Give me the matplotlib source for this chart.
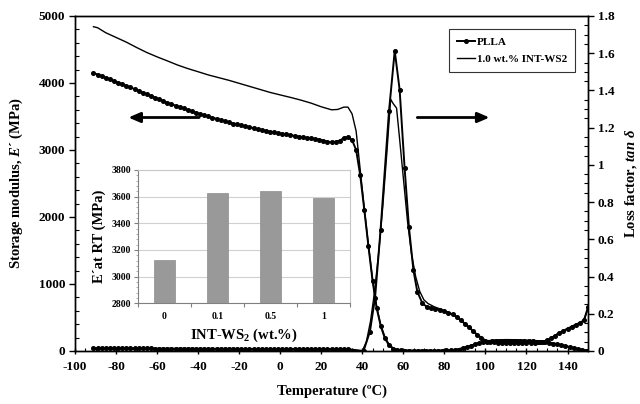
import matplotlib
matplotlib.use("Agg")
import matplotlib.pyplot as plt
from matplotlib.ticker import MultipleLocator, FuncFormatter, FixedLocator

plt.rcParams['font.family'] = ['Liberation Serif', 'DejaVu Serif']
plt.rcParams['font.weight'] = 'bold'
plt.rcParams['axes.unicode_minus'] = False
plt.rcParams['mathtext.fontset'] = 'custom'
plt.rcParams['mathtext.rm'] = 'Liberation Serif:bold'
plt.rcParams['mathtext.bf'] = 'Liberation Serif:bold'
plt.rcParams['mathtext.it'] = 'Liberation Serif:bold:italic'

# ---------------- data ----------------
# Storage modulus E' of PLLA (markers)
T_E_pl = [-91, -89, -87, -85, -83, -81, -79, -77, -75, -73, -71, -69, -67, -65, -63, -61,
          -59, -57, -55, -53, -51, -49, -47, -45, -43, -41, -39, -37, -35, -33, -31, -29,
          -27, -25, -23, -21, -19, -17, -15, -13, -11, -9, -7, -5, -3, -1, 1, 3, 5, 7, 9,
          11, 13, 15, 17, 19, 21, 23, 25, 27, 29, 31, 33, 35, 37, 39, 41, 43, 45, 47, 49,
          51, 53, 55, 57, 59, 61, 63, 65, 67, 69, 71, 73, 75, 77, 79, 81, 83, 85, 87, 89,
          91, 93, 95, 97, 99, 101, 103, 105, 107, 109, 111, 113, 115, 117, 119, 121, 123,
          125, 127, 129, 131, 133, 135, 137, 139, 141, 143, 145, 147, 149, 150]
E_pl = [4150, 4126, 4102, 4078, 4054, 4030, 4006, 3982, 3958, 3934, 3910, 3884, 3858, 3833,
        3807, 3782, 3756, 3730, 3705, 3683, 3662, 3641, 3620, 3598, 3577, 3556, 3535, 3517,
        3500, 3482, 3465, 3447, 3430, 3412, 3395, 3381, 3367, 3354, 3340, 3326, 3312, 3299,
        3285, 3274, 3264, 3253, 3243, 3232, 3222, 3212, 3201, 3191, 3182, 3173, 3164, 3155,
        3140, 3125, 3115, 3120, 3140, 3180, 3195, 3150, 3000, 2620, 2100, 1560, 1050, 640,
        370, 190, 85, 35, 15, 8, 6, 5, 5, 5, 5, 5, 5, 5, 5, 6, 8, 10, 14, 22, 38, 58, 80,
        100, 117, 130, 138, 143, 146, 147, 148, 148, 147, 147, 146, 145, 144, 143, 140,
        135, 128, 120, 110, 98, 85, 72, 58, 44, 30, 16, 5, 0]

# Storage modulus E' of 1.0 wt.% INT-WS2 (thin line)
T_E_ws = [-91, -89, -85, -80, -75, -70, -65, -60, -55, -50, -45, -40, -35, -30, -25, -20,
          -15, -10, -5, 0, 5, 10, 15, 20, 25, 28, 31, 33, 35, 37, 39, 41, 43, 45, 47, 49,
          51, 53, 55, 57, 60, 65, 70, 75, 80, 85, 90, 95, 100, 105, 110, 115, 120, 125, 130,
          135, 140, 145, 150]
E_ws = [4840, 4825, 4750, 4680, 4610, 4530, 4455, 4390, 4330, 4268, 4215, 4168, 4120, 4080,
        4040, 3995, 3950, 3905, 3860, 3822, 3785, 3745, 3700, 3645, 3600, 3605, 3640, 3640,
        3540, 3280, 2700, 2120, 1580, 1070, 660, 390, 210, 100, 45, 20, 10, 8, 8, 8, 10, 20,
        55, 105, 150, 165, 170, 168, 163, 155, 135, 105, 70, 35, 5]

# Loss factor tan delta of PLLA (markers)
T_tan_pl = [-91, -89, -87, -85, -83, -81, -79, -77, -75, -73, -71, -69, -67, -65, -63, -61,
            -59, -57, -55, -53, -51, -49, -47, -45, -43, -41, -39, -37, -35, -33, -31, -29,
            -27, -25, -23, -21, -19, -17, -15, -13, -11, -9, -7, -5, -3, -1, 1, 3, 5, 7, 9,
            11, 13, 15, 17, 19, 21, 23, 25, 27, 29, 31, 33, 40.6, 43.7, 46.2, 48.9, 53.0,
            55.8, 58.2, 60.6, 62.7, 64.9, 66.8, 69.3, 71.4, 73.5, 75.6, 77.7, 79.8, 82, 84,
            86, 88, 90, 92, 94, 96, 98, 100, 102, 104, 106, 108, 110, 112, 114, 116, 118,
            120, 122, 124, 126, 128, 130, 132, 134, 136, 138, 140, 142, 144, 146, 148, 150]
tan_pl = [0.015, 0.015, 0.015, 0.015, 0.015, 0.015, 0.015, 0.014, 0.014, 0.014, 0.014, 0.014,
          0.014, 0.014, 0.014, 0.013, 0.013, 0.013, 0.013, 0.013, 0.013, 0.013, 0.013, 0.013,
          0.013, 0.012, 0.012, 0.012, 0.012, 0.012, 0.012, 0.012, 0.012, 0.012, 0.012, 0.012,
          0.011, 0.011, 0.011, 0.011, 0.011, 0.011, 0.011, 0.011, 0.011, 0.011, 0.011, 0.011,
          0.011, 0.011, 0.011, 0.011, 0.011, 0.011, 0.011, 0.011, 0.011, 0.011, 0.011, 0.011,
          0.011, 0.011, 0.010,
          0.0, 0.104, 0.285, 0.65, 1.287, 1.613, 1.403, 0.985, 0.668, 0.435, 0.319, 0.256,
          0.238, 0.232, 0.226, 0.221, 0.214, 0.206, 0.197,
          0.183, 0.165, 0.146, 0.127, 0.107, 0.087, 0.070, 0.056, 0.048, 0.046,
          0.045, 0.045, 0.045, 0.045, 0.045, 0.045, 0.045, 0.045, 0.045, 0.045,
          0.046, 0.050, 0.057, 0.068, 0.082, 0.097, 0.109, 0.120, 0.131, 0.142, 0.151,
          0.165, 0.235]

# Loss factor tan delta of 1.0 wt.% INT-WS2 (thin line)
T_tan_ws = [-91, -60, -30, 0, 33, 40, 42, 44, 46, 48, 50, 52, 53.8, 55, 56.7, 58, 60, 62, 64,
            66, 68, 70, 72, 75, 80, 85, 90, 95, 100, 105, 110, 115, 120, 125, 130, 135, 140,
            145, 148, 150]
tan_ws = [0.008, 0.008, 0.008, 0.008, 0.006, 0.0, 0.05, 0.16, 0.32, 0.53, 0.78, 1.07, 1.353,
          1.33, 1.305, 1.16, 0.93, 0.70, 0.52, 0.40, 0.32, 0.275, 0.255, 0.238, 0.217, 0.19,
          0.148, 0.097, 0.058, 0.05, 0.052, 0.05, 0.048, 0.048, 0.056, 0.092, 0.12, 0.145,
          0.163, 0.23]

# Inset: E' at room temperature
inset_cats = ['0', '0.1', '0.5', '1']
inset_vals = [3125, 3630, 3640, 3590]

# ---------------- figure ----------------
fig = plt.figure(figsize=(6.4, 4.04), dpi=100)
ax = fig.add_axes([0.1172, 0.1312, 0.8016, 0.8292])
ax2 = ax.twinx()

ax.plot(T_E_pl, E_pl, color='black', lw=1.4, marker='o', ms=2.6, zorder=3)
ax.plot(T_E_ws, E_ws, color='black', lw=1.0, zorder=3)
l1, = ax2.plot(T_tan_pl, tan_pl, color='black', lw=1.4, marker='o', ms=2.6)
l2, = ax2.plot(T_tan_ws, tan_ws, color='black', lw=1.0)

ax.set_xlim(-100, 150)
ax.set_ylim(0, 5000)
ax2.set_ylim(0, 1.8)

ax.xaxis.set_minor_locator(MultipleLocator(5))
ax.set_xticks(list(range(-100, 141, 20)))
ax.yaxis.set_major_locator(MultipleLocator(1000))
ax.yaxis.set_minor_locator(MultipleLocator(200))
ax2.yaxis.set_major_locator(MultipleLocator(0.2))
ax2.yaxis.set_minor_locator(MultipleLocator(0.05))
ax2.yaxis.set_major_formatter(FuncFormatter(lambda v, p: '%g' % round(v, 2)))

for a in (ax, ax2):
    a.tick_params(which='major', direction='out', length=4, width=1, labelsize=9.5, pad=3)
    a.tick_params(which='minor', direction='in', length=3, width=0.8)
    for s in a.spines.values():
        s.set_linewidth(1.0)
ax.tick_params(axis='x', which='major', direction='inout', length=5, pad=5)
ax.tick_params(axis='x', which='minor', direction='in', length=2.5)
for lab in ax.get_xticklabels() + ax.get_yticklabels() + ax2.get_yticklabels():
    lab.set_fontweight('bold')

ax.set_xlabel('Temperature (ºC)', fontsize=10.5, fontweight='bold', labelpad=8)
ax.set_ylabel(r'Storage modulus, $E$´ (MPa)', fontsize=10.5, fontweight='bold', labelpad=10)
ax2.set_ylabel(r'Loss factor, $tan\ \delta$', fontsize=10.5, fontweight='bold',
               rotation=90, labelpad=6)

# arrows
ax.annotate('', xy=(-74, 3485), xytext=(-39.5, 3485),
            arrowprops=dict(arrowstyle='-|>,head_length=0.7,head_width=0.3', lw=2.0,
                            color='black', shrinkA=0, shrinkB=0))
ax.annotate('', xy=(102, 3485), xytext=(66.8, 3485),
            arrowprops=dict(arrowstyle='-|>,head_length=0.7,head_width=0.3', lw=2.0,
                            color='black', shrinkA=0, shrinkB=0))

leg = ax2.legend([l1, l2], ['PLLA', '1.0 wt.% INT-WS2'], loc='upper right',
                 bbox_to_anchor=(0.975, 0.961), frameon=True, fancybox=False,
                 edgecolor='black', fontsize=8, handlelength=1.6, borderpad=0.7,
                 labelspacing=0.7, handletextpad=0.2, borderaxespad=0)
leg.get_frame().set_linewidth(0.8)
for t in leg.get_texts():
    t.set_fontweight('bold')

# ---------------- inset ----------------
ins = fig.add_axes([0.2156, 0.2493, 0.3313, 0.33])
ins.set_zorder(10)
ins.set_facecolor('white')
xpos = list(range(len(inset_vals)))
ins.bar(xpos, inset_vals, width=0.4, color='#999999', edgecolor='#8c8c8c', lw=0.5, zorder=3)
ins.set_xlim(-0.5, 3.5)
ins.set_ylim(2800, 3800)
ins.yaxis.set_major_locator(MultipleLocator(200))
ins.yaxis.set_minor_locator(MultipleLocator(40))
ins.grid(axis='y', color='#d0d0d0', lw=0.8, zorder=0)
ins.xaxis.set_major_locator(FixedLocator([-0.5, 0.5, 1.5, 2.5, 3.5]))
ins.xaxis.set_major_formatter(FuncFormatter(lambda v, p: ''))
ins.xaxis.set_minor_locator(FixedLocator(xpos))
ins.set_xticklabels(inset_cats, minor=True)
ins.tick_params(axis='x', which='major', direction='out', length=3, color='#808080')
ins.tick_params(axis='x', which='minor', length=0, labelsize=7, pad=6)
ins.tick_params(axis='y', which='major', direction='out', length=3, color='#808080',
                labelsize=7, pad=2)
ins.tick_params(axis='y', which='minor', direction='out', length=1.5, color='#a0a0a0')
for lab in ins.get_xticklabels(minor=True) + ins.get_yticklabels():
    lab.set_fontweight('bold')
ins.spines['left'].set_color('#808080')
ins.spines['bottom'].set_color('#808080')
ins.spines['top'].set_color('#c8c8c8')
ins.spines['right'].set_color('#c8c8c8')
ins.set_xlabel(r'INT-WS$_2$ (wt.%)', fontsize=10.5, fontweight='bold', labelpad=4)
ins.set_ylabel('E´at RT (MPa)', fontsize=10.5, fontweight='bold', labelpad=4)

fig.savefig('out.png', dpi=100)
